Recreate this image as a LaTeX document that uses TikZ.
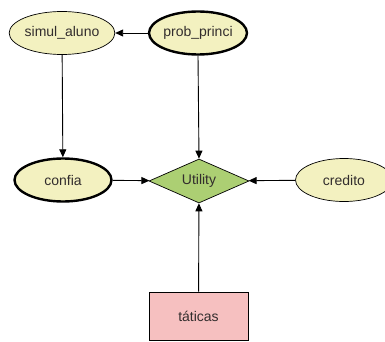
\documentclass[tikz,border=0pt]{standalone}
\usepackage{fontspec}
\setmainfont{Liberation Sans}
\usetikzlibrary{shapes.geometric,arrows.meta}
\definecolor{ellfill}{RGB}{243,241,192}
\definecolor{utilfill}{RGB}{172,207,115}
\definecolor{decfill}{RGB}{246,192,192}
\definecolor{txt}{RGB}{50,45,45}
\begin{document}
\begin{tikzpicture}[x=1pt,y=-1pt,
  chance/.style={ellipse,draw=black,fill=ellfill,minimum width=97pt,minimum height=43pt,inner sep=0pt,line width=0.7pt},
  thickch/.style={chance,line width=2.4pt},
  util/.style={diamond,draw=black,fill=utilfill,minimum width=100pt,minimum height=44pt,inner sep=0pt,line width=0.7pt,aspect=2.2},
  dec/.style={rectangle,draw=black,fill=decfill,minimum width=99pt,minimum height=48pt,inner sep=0pt,line width=0.8pt},
  lbl/.style={font=\fontsize{14}{16}\selectfont,text=txt},
  arr/.style={-{Triangle[length=8pt,width=7pt]},line width=0.9pt}]
\useasboundingbox (0,0) rectangle (385,342);
\fill[white] (0,0) rectangle (385,342);
\begin{scope}
\clip (0,0) rectangle (385,342);
\node[chance,lbl] (sim) at (62,33) {simul\_aluno};
\node[thickch,lbl] (prob) at (198,33) {prob\_princi};
\node[thickch,lbl] (conf) at (63,180) {confia};
\node[util,lbl] (util) at (199,181) {Utility};
\node[chance,lbl] (cred) at (344,180) {credito};
\node[dec,lbl] (tat) at (198.5,316) {táticas};
\draw[arr] (prob) -- (sim);
\draw[arr] (sim) -- (conf);
\draw[arr] (prob.south) -- (util.north);
\draw[arr] (conf) -- (util);
\draw[arr] (cred) -- (util);
\draw[arr] (tat) -- (util);
\end{scope}
\end{tikzpicture}
\end{document}
